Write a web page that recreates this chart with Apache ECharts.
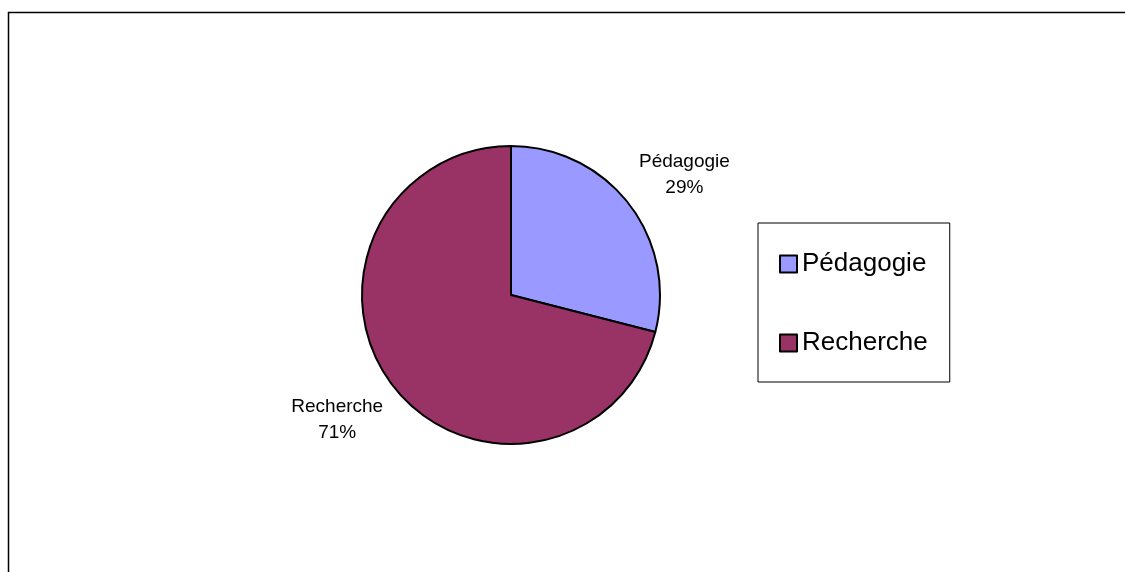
<!DOCTYPE html>
<html>
<head>
<meta charset="utf-8">
<script src="https://cdn.jsdelivr.net/npm/echarts@6/dist/echarts.min.js"></script>
<style>
html,body{margin:0;padding:0;background:#fff;}
#chart{width:1125px;height:572px;}
</style>
</head>
<body>
<div id="chart"></div>
<script>
var categories = ['Pédagogie', 'Recherche'];
var values = [29, 71];
var colors = ['#9999FF', '#993366'];

var CX = 511, CY = 295, R = 149, LABEL_GAP = 25;
var total = values.reduce(function(a,b){return a+b;},0);
var mids = [];
(function(){
  var acc = 0;
  for (var i = 0; i < values.length; i++) {
    mids.push((acc + values[i] / 2) / total * 2 * Math.PI);
    acc += values[i];
  }
})();

var chart = echarts.init(document.getElementById('chart'));
chart.setOption({
  backgroundColor: '#ffffff',
  animation: false,
  color: colors,
  legend: {
    orient: 'vertical',
    left: 758,
    top: 223,
    padding: [28, 22, 26, 21],
    itemGap: 53,
    itemWidth: 17,
    itemHeight: 17,
    icon: 'rect',
    borderColor: '#000',
    borderWidth: 1,
    backgroundColor: '#fff',
    itemStyle: { borderColor: '#000', borderWidth: 2 },
    textStyle: { fontFamily: 'Liberation Sans, Arial, sans-serif', fontSize: 26, color: '#000' },
    data: categories
  },
  graphic: [{
    type: 'polyline',
    shape: { points: [[8.5, 572], [8.5, 12.5], [1125, 12.5]] },
    style: { stroke: '#000', lineWidth: 1.5, fill: null },
    silent: true
  }],
  series: [{
    type: 'pie',
    center: [CX, CY],
    radius: [0, R],
    startAngle: 90,
    clockwise: true,
    avoidLabelOverlap: false,
    itemStyle: { borderColor: '#000', borderWidth: 2 },
    label: {
      show: true,
      position: 'outside',
      formatter: '{b}\n{d}%',
      fontFamily: 'Liberation Sans, Arial, sans-serif',
      fontSize: 19,
      lineHeight: 26,
      color: '#000',
      align: 'center'
    },
    labelLine: { show: false },
    labelLayout: function (p) {
      var a = mids[p.dataIndex];
      var dx = Math.sin(a), dy = -Math.cos(a);
      var w = p.labelRect.width, h = p.labelRect.height;
      var x = CX + dx * (R + LABEL_GAP) + dx * w / 2;
      var y = CY + dy * (R + LABEL_GAP) + dy * h / 2 + 2;
      return { x: x, y: y, align: 'center', verticalAlign: 'middle' };
    },
    emphasis: { disabled: true },
    data: categories.map(function (c, i) { return { name: c, value: values[i] }; })
  }]
});
</script>
</body>
</html>
